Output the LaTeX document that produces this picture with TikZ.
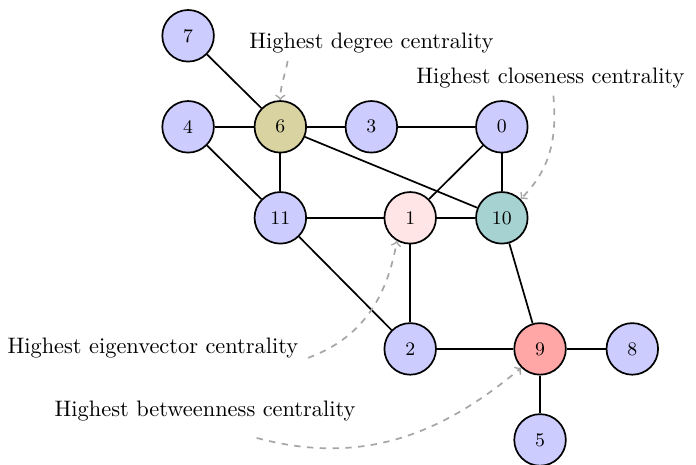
\documentclass[tikz,border=0pt]{standalone}
\usepackage{tikz}
\usetikzlibrary{arrows}

\definecolor{degcol}{RGB}{216,211,160}

\begin{document}
\begin{tikzpicture}[thick,
  vertex/.style={circle,draw,fill=blue!20,minimum size=0.85cm,inner sep=0pt,font=\small},
  tag/.style={font=\fontsize{10.5}{12}\selectfont},
  hint/.style={gray!70,dashed,->}]
\useasboundingbox (-3.10,-5.57) rectangle (8.37,2.09);

\node[vertex] (n7) at (0,1.5) {7};
\node[vertex] (n4) at (0,0) {4};
\node[vertex,fill=degcol] (n6) at (1.52,0) {6};
\node[vertex] (n3) at (3.02,0) {3};
\node[vertex] (n0) at (5.17,0) {0};
\node[vertex] (n11) at (1.52,-1.5) {11};
\node[vertex,fill=red!10] (n1) at (3.66,-1.5) {1};
\node[vertex,fill=teal!35] (n10) at (5.17,-1.5) {10};
\node[vertex] (n2) at (3.66,-3.66) {2};
\node[vertex,fill=red!35] (n9) at (5.80,-3.66) {9};
\node[vertex] (n8) at (7.32,-3.66) {8};
\node[vertex] (n5) at (5.80,-5.16) {5};

\draw (n7)--(n6);
\draw (n4)--(n6);
\draw (n6)--(n3);
\draw (n3)--(n0);
\draw (n4)--(n11);
\draw (n6)--(n11);
\draw (n6)--(n10);
\draw (n0)--(n1);
\draw (n0)--(n10);
\draw (n11)--(n1);
\draw (n1)--(n10);
\draw (n11)--(n2);
\draw (n1)--(n2);
\draw (n10)--(n9);
\draw (n2)--(n9);
\draw (n9)--(n8);
\draw (n9)--(n5);

\node[tag] (hdeg) at (3.02,1.38) {Highest degree centrality};
\node[tag] (hclo) at (5.97,0.81) {Highest closeness centrality};
\node[tag] (heig) at (-0.58,-3.64) {Highest eigenvector centrality};
\node[tag] (hbet) at (0.28,-4.68) {Highest betweenness centrality};

\draw[hint] ([xshift=-1.38cm]hdeg.south) to[out=-100,in=90] (n6.north);
\draw[hint] ([xshift=0.03cm,yshift=0.13cm]heig.south east) to[out=20,in=-100] (n1.240);
\draw[hint] ([xshift=0.05cm]hclo.south) to[out=-85,in=45] (n10.north east);
\draw[hint] ([xshift=0.85cm,yshift=-0.15cm]hbet.south) to[out=-15,in=-140] (n9.south west);

\end{tikzpicture}
\end{document}
